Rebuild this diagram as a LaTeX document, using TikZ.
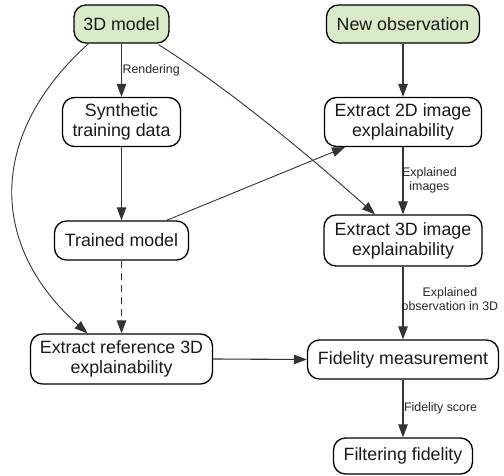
\documentclass[tikz,border=0pt]{standalone}
\usepackage{fontspec}
\setmainfont{Liberation Sans}
\usetikzlibrary{arrows.meta}
\definecolor{startgreen}{RGB}{217,234,200}
\definecolor{edgegray}{RGB}{51,51,51}
\tikzset{
  box/.style={draw=black, line width=1.3pt, rounded corners=12pt, fill=white, align=center,
    inner sep=0pt, font=\fontsize{17.8}{20}\selectfont, text=black!90},
  startbox/.style={box, fill=startgreen},
  conn/.style={draw=edgegray, line width=1.1pt, -{Triangle[length=13pt,width=9.5pt]}},
  thin conn/.style={conn, line width=0.9pt},
  elabel/.style={font=\fontsize{12.4}{14}\selectfont, text=black!85, align=center, inner sep=0pt}
}
\begin{document}
\begin{tikzpicture}[x=1pt,y=-1pt]
\useasboundingbox (0,0) rectangle (504,476);
% nodes
\node[startbox, minimum width=95pt, minimum height=38pt] (m3d) at (121.5,24) {3D model};
\node[startbox, minimum width=153pt, minimum height=38pt] (newobs) at (403,24) {New observation};
\node[box, minimum width=118pt, minimum height=49pt] (synth) at (121.5,122) {Synthetic\\training data};
\node[box, minimum width=157pt, minimum height=49pt] (ex2d) at (403,122) {Extract 2D image\\explainability};
\node[box, minimum width=134pt, minimum height=39pt] (trained) at (121.5,240.5) {Trained model};
\node[box, minimum width=158pt, minimum height=51pt] (ex3d) at (403,240.5) {Extract 3D image\\explainability};
\node[box, minimum width=182pt, minimum height=50pt] (ref) at (121.5,359) {Extract reference 3D\\explainability};
\node[box, minimum width=191pt, minimum height=39pt] (fid) at (403,359.5) {Fidelity measurement};
\node[box, minimum width=139pt, minimum height=36pt] (filt) at (403,456) {Filtering fidelity};
% connectors
\draw[conn] (m3d.south) -- node[elabel, anchor=west, xshift=0.5pt] (lrender) {Rendering} (synth.north);
\draw[conn] (synth.south) -- (trained.north);
\draw[conn, dashed, dash pattern=on 7pt off 5pt] (trained.south) -- (ref.north);
\draw[thin conn] ([xshift=-33pt]m3d.south) .. controls +(-100,90) and +(-100,-89) .. ([xshift=-34pt]ref.north);
\draw[thin conn] ([xshift=37pt,yshift=-1pt]m3d.south) .. controls +(80,50) and +(-45,-40) .. ([xshift=-28pt]ex3d.north);
\draw[thin conn] ([xshift=45pt]trained.north) -- ([xshift=-58pt]ex2d.south);
\draw[conn] (newobs.south) -- (ex2d.north);
\draw[conn] (ex2d.south) -- (ex3d.north);
\node[elabel, anchor=west] (limages) at (402,180) {Explained\\images};
\draw[conn] (ex3d.south) -- (fid.north);
\node[elabel, anchor=west] (lobs) at (401.5,299) {Explained\\observation in 3D};
\draw[conn] (ref.east) -- (fid.west);
\draw[conn] (fid.south) -- node[elabel, anchor=west, xshift=0.5pt] (lscore) {Fidelity score} (filt.north);
\end{tikzpicture}
\end{document}
